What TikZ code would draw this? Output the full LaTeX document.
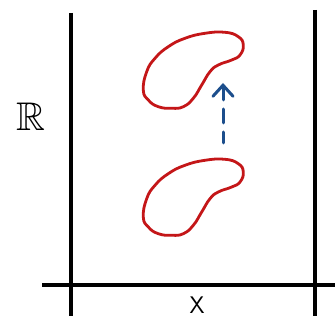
\documentclass[tikz,border=0pt]{standalone}
\usepackage{amssymb}
\usetikzlibrary{arrows.meta}
\definecolor{blobred}{RGB}{196,22,24}
\definecolor{arrowblue}{RGB}{28,78,140}
\tikzset{
  axis/.style={line width=3.2pt, black},
  blob/.style={line width=2.8pt, blobred, line join=round},
  lift/.style={line width=3pt, arrowblue, line cap=round, dash pattern=on 14pt off 9pt, dash phase=3pt,
    -{Straight Barb[length=11pt,width=20pt,line width=3pt, line cap=round]}}
}
\begin{document}
\begin{tikzpicture}[x=1pt,y=-1pt]
\useasboundingbox (0,0) rectangle (335,320);
\fill[white] (0,0) rectangle (335,320);
% axes
\draw[axis] (71,13) -- (71,316);
\draw[axis] (315,10) -- (315,316);
\draw[axis] (42,285) -- (340,285);
% labels
\node (R) at (31,117) {\fontsize{40}{40}\selectfont$\mathbb{R}$};
\node[anchor=north, inner sep=0pt] (X) at (197,297) {\fontsize{24}{24}\selectfont\sffamily X};
% blobs
\foreach \dy in {0,127}{
\draw[blob, shift={(0,\dy)}] plot[smooth cycle, tension=0.8] coordinates {
 (143.3,90) (146.7,71.7) (155,58.3) (168.3,46.7) (185,38.3) (205,33.3) (225,32.3) (238.3,36.7) (243.3,45) (240,55) (231.7,60) (218.3,65) (210,71.7) (201.7,85) (193.3,98.3) (183.3,106.7) (171.7,108.3) (158.3,106.7) (148.3,100)};
}
% arrow
\coordinate (a0) at (223,143);
\coordinate (a1) at (223,83);
\draw[lift] (a0) -- (a1);
\end{tikzpicture}
\end{document}
